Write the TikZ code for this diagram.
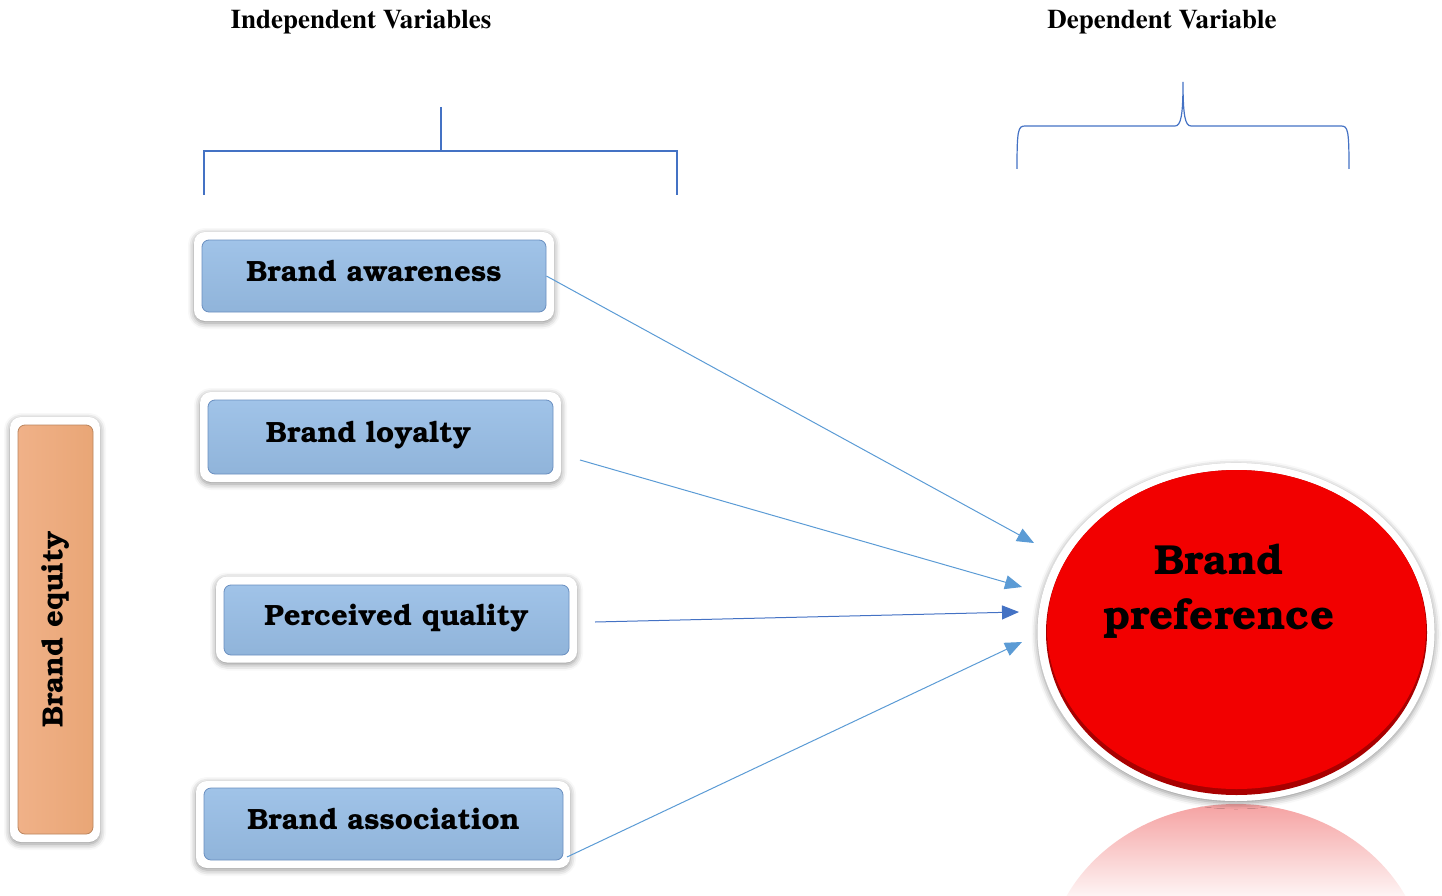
\documentclass[tikz,border=0pt]{standalone}
\usepackage[T1,TU]{fontenc}
\usetikzlibrary{arrows.meta,shapes.geometric,shadows.blur}

\definecolor{linkblue}{HTML}{5B9BD5}
\definecolor{darkblue}{HTML}{4472C4}
\definecolor{boxtop}{HTML}{A0C3E8}
\definecolor{boxbot}{HTML}{90B4DA}
\definecolor{boxedge}{HTML}{6A8FC0}
\definecolor{orangetop}{HTML}{F0B188}
\definecolor{orangebot}{HTML}{E9A676}
\definecolor{prefred}{HTML}{F20000}
\definecolor{prefdark}{HTML}{A80000}
\definecolor{reflpink}{HTML}{F5A0A0}

\newcommand{\bkfont}{\fontencoding{T1}\fontfamily{pbk}\bfseries\selectfont}
\newcommand{\tmfont}{\fontencoding{T1}\fontfamily{ptm}\bfseries\selectfont}

\tikzset{
  varbox/.style={rectangle, rounded corners=7pt, top color=boxtop, bottom color=boxbot,
    draw=boxedge, line width=0.8pt, inner sep=0pt,
    font=\bkfont\fontsize{29.3}{34}\selectfont},
  whiteframe/.style={rectangle, rounded corners=11pt, fill=white, inner sep=0pt,
    blur shadow={shadow xshift=0pt, shadow yshift=-2pt, shadow blur radius=6pt, shadow opacity=45}},
  header/.style={font=\tmfont\fontsize{27}{30}\selectfont, inner sep=0pt},
  link/.style={draw=linkblue, line width=1pt, -{Triangle[length=17pt,width=14pt]}},
  bracket/.style={draw=darkblue, line width=1.2pt},
}

\begin{document}
\begin{tikzpicture}[x=1pt,y=-1pt]
\useasboundingbox (0,0) rectangle (1442,896);

% headers
\node[header] (hind) at (361,22) {Independent Variables};
\node[header] (hdep) at (1162,22) {Dependent Variable};

% square bracket over the independent variables
\draw[bracket] (441,107) -- (441,151);
\draw[bracket] (204,195) -- (204,151) -- (677,151) -- (677,195);

% curly brace over the dependent variable
\draw[bracket] (1017,169) .. controls (1017,130) and (1018,126) .. (1025,126)
  -- (1175,126) .. controls (1181,126) and (1183,115) .. (1183,82)
  .. controls (1183,115) and (1185,126) .. (1191,126)
  -- (1341,126) .. controls (1348,126) and (1349,130) .. (1349,169);

% white frames with soft shadows behind the boxes
\node[whiteframe, minimum width=360pt, minimum height=89pt] (faw) at (374,276.5) {};
\node[whiteframe, minimum width=361pt, minimum height=90pt] (flo) at (380.5,437) {};
\node[whiteframe, minimum width=361pt, minimum height=86pt] (fpq) at (396.5,619.5) {};
\node[whiteframe, minimum width=374pt, minimum height=87pt] (fas) at (383,824.5) {};
\node[whiteframe, minimum width=90pt, minimum height=425pt] (feq) at (55,629.5) {};

% independent variable boxes
\node[varbox, minimum width=344pt, minimum height=72pt] (aw) at (374,276)
  {\raisebox{9pt}{Brand awareness}};
\node[varbox, minimum width=345pt, minimum height=74pt] (lo) at (380.5,437)
  {\raisebox{9pt}{Brand loyalty\hspace*{24pt}}};
\node[varbox, minimum width=345pt, minimum height=70pt] (pq) at (396.5,620)
  {\raisebox{9pt}{Perceived quality}};
\node[varbox, minimum width=359pt, minimum height=72pt] (as) at (383.5,824)
  {\raisebox{9pt}{Brand association}};

% brand equity bar
\node[rectangle, rounded corners=7pt, left color=orangetop, right color=orangebot,
  draw=orangebot!80!black, line width=0.8pt, inner sep=0pt,
  minimum width=75pt, minimum height=409pt,
  font=\bkfont\fontsize{29.3}{34}\selectfont] (eq) at (55.5,629.5)
  {\rotatebox{90}{\raisebox{-5pt}{Brand equity}}};

% fading reflection under the dependent variable
\begin{scope}
  \clip (1236,972) ellipse [x radius=190pt, y radius=168pt];
  \shade[top color=reflpink, bottom color=reflpink!8] (1040,802) rectangle (1430,900);
\end{scope}

% dependent variable
\node[ellipse, fill=white, minimum width=397pt, minimum height=338pt,
  blur shadow={shadow xshift=0pt, shadow yshift=-2pt, shadow blur radius=6pt, shadow opacity=45}]
  (prefring) at (1236,632) {};
\fill[prefdark] (1236.5,632.5) ellipse [x radius=190.5pt, y radius=162.5pt];
\fill[prefred] (1236.5,629.5) ellipse [x radius=189.5pt, y radius=159.5pt];
\node[font=\bkfont\fontsize{42}{55}\selectfont, align=center, inner sep=0pt]
  (pref) at (1219,591) {Brand\\preference};

% arrows into the dependent variable
\coordinate (t1) at (1034,543);
\coordinate (t2) at (1022,587);
\coordinate (t3) at (1019,612);
\coordinate (t4) at (1022,642);
\coordinate (s2) at (580,460);
\coordinate (s3) at (595,622);
\coordinate (s4) at (567,857);
\draw[link] (aw.east) -- (t1);
\draw[link] (s2) -- (t2);
\draw[link, draw=darkblue] (s3) -- (t3);
\draw[link] (s4) -- (t4);
\end{tikzpicture}
\end{document}
